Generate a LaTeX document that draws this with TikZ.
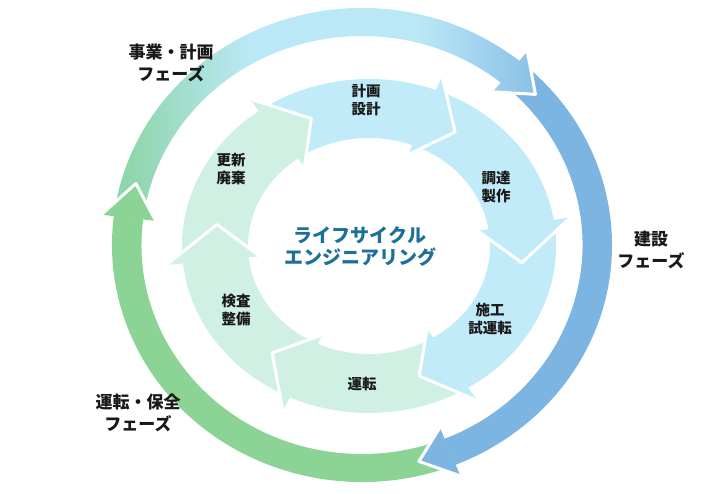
\documentclass[tikz,border=0pt]{standalone}
\usepackage{fontspec}
\newfontfamily\jp{Noto Sans CJK JP}
\definecolor{outB}{RGB}{125,181,226}
\definecolor{outG}{RGB}{139,212,149}
\definecolor{outAL}{RGB}{143,214,172}
\definecolor{outAM}{RGB}{186,232,246}
\definecolor{outAR}{RGB}{138,192,232}
\definecolor{inB}{RGB}{193,235,248}
\definecolor{inG}{RGB}{208,240,228}
\definecolor{ctext}{RGB}{28,112,150}
\definecolor{ltext}{RGB}{25,25,25}
\pgfdeclarehorizontalshading{outAshade}{100bp}{color(0bp)=(outAL); color(27bp)=(outAL); color(41bp)=(outAM); color(61bp)=(outAM); color(75bp)=(outAR); color(100bp)=(outAR)}
\newcommand\ringbody[5]{\fill[#1] (#2:#5) arc[start angle=#2,end angle=#3,radius=#5] -- (#3:#4) arc[start angle=#3,end angle=#2,radius=#4] -- cycle;}
\newcommand\ringhead[6]{\fill[#1] (#2:#4) -- (#3:#6) -- (#2:#5) -- cycle;}
\newcommand\headgap[5]{\draw[white,line width=3pt,line join=round] (#1:#4) -- (#2:#5) -- (#1:#3);}
\tikzset{
  innerlbl/.style={font=\jp\bfseries\fontsize{14.5}{18}\selectfont, text=ltext, align=center, inner sep=0pt},
  phaselbl/.style={font=\jp\bfseries\fontsize{17}{21.5}\selectfont, text=ltext, align=center, inner sep=0pt},
  centerlbl/.style={font=\jp\bfseries\fontsize{19}{22}\selectfont, text=ctext, align=center, inner sep=0pt}
}
\begin{document}
\begin{tikzpicture}[x=1pt,y=1pt]
\useasboundingbox (0,0) rectangle (709,-494);
% ---------- outer ring ----------
\begin{scope}[shift={(362,-245)}, xscale=1.055]
  \def\ri{209}\def\ro{237}\def\rm{223}\def\bi{197}\def\bo{249}
  \ringbody{outB}{51}{-69}{\ri}{\ro}
  \ringbody{outG}{-68}{-188}{\ri}{\ro}
  \shade[shading=outAshade]
    (173:\ro) arc[start angle=173,end angle=51,radius=\ro] -- (51:\bo) -- (42.5:\rm) -- (51:\bi) -- (51:\ri)
    arc[start angle=51,end angle=173,radius=\ri] -- cycle;
  \ringhead{outB}{-68}{-76}{\bi}{\bo}{\rm}
  \ringhead{outG}{-187}{-196}{\bi}{\bo}{\rm}
  \headgap{51}{42.5}{\bi}{\bo}{\rm}
  \headgap{-68}{-76}{\bi}{\bo}{\rm}
  \headgap{-187}{-196}{\bi}{\bo}{\rm}
\end{scope}
% ---------- inner ring ----------
\begin{scope}[shift={(369,-246)}, xscale=1.12]
  \def\ri{108}\def\ro{167}\def\rm{137.5}\def\bi{98}\def\bo{182}
  \ringbody{inB}{126}{68}{\ri}{\ro}
  \ringbody{inB}{69}{8}{\ri}{\ro}
  \ringbody{inB}{9}{-59}{\ri}{\ro}
  \ringbody{inG}{-58}{-116}{\ri}{\ro}
  \ringbody{inG}{-115}{-175}{\ri}{\ro}
  \ringbody{inG}{-174}{-235}{\ri}{\ro}
  \ringhead{inB}{69}{56}{\bi}{\bo}{\rm}
  \ringhead{inB}{9}{-7}{\bi}{\bo}{\rm}
  \ringhead{inB}{-58}{-71}{\bi}{\bo}{\rm}
  \ringhead{inG}{-115}{-129}{\bi}{\bo}{\rm}
  \ringhead{inG}{-174}{-189}{\bi}{\bo}{\rm}
  \ringhead{inG}{-234}{-248}{\bi}{\bo}{\rm}
  \headgap{69}{56}{\bi}{\bo}{\rm}
  \headgap{9}{-7}{\bi}{\bo}{\rm}
  \headgap{-58}{-71}{\bi}{\bo}{\rm}
  \headgap{-115}{-129}{\bi}{\bo}{\rm}
  \headgap{-174}{-189}{\bi}{\bo}{\rm}
  \headgap{-234}{-248}{\bi}{\bo}{\rm}
\end{scope}
% ---------- labels ----------
\node[innerlbl] (plan) at (366,-100) {計画\\設計};
\node[innerlbl] (proc) at (496,-187) {調達\\製作};
\node[innerlbl] (cons) at (490,-319) {施工\\試運転};
\node[innerlbl] (oper) at (362,-384) {運転};
\node[innerlbl] (insp) at (236,-310) {検査\\整備};
\node[innerlbl] (renew) at (231,-169) {更新\\廃棄};
\node[centerlbl] (center) at (360,-246) {ライフサイクル\\エンジニアリング};
\node[phaselbl] (ph1) at (171,-63) {事業・計画\\フェーズ};
\node[phaselbl] (ph2) at (651,-250) {建設\\フェーズ};
\node[phaselbl] (ph3) at (138,-413) {運転・保全\\フェーズ};
\end{tikzpicture}
\end{document}
